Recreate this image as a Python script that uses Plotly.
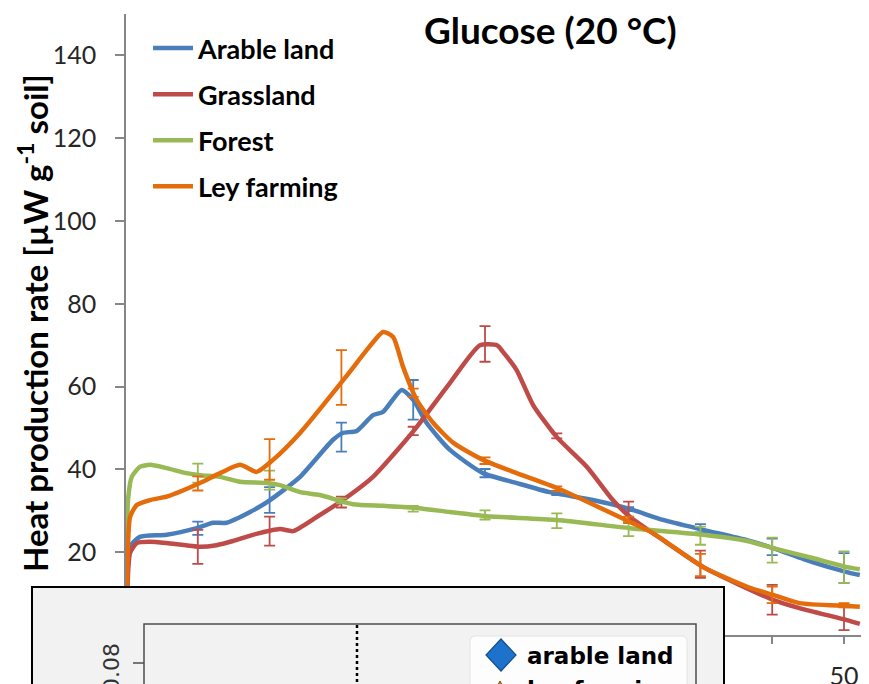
import plotly.graph_objects as go

# ---------------- data ----------------
arable_t = [0, 0.07, 0.28, 0.97, 2.83, 4.92, 6.06, 7.0, 8.64, 10.03, 12.12, 14.4, 15.1, 16.07, 17.2, 17.9, 19.2, 20.0, 20.94, 22.56, 24.86, 27.2, 29.5, 32.5, 35.1, 37.4, 40.2, 43.25, 45.05, 47.8, 50.2, 51.1]
arable_y = [0, 10.9, 21.3, 23.7, 24.2, 25.8, 27.1, 27.1, 29.7, 32.6, 38.2, 47.1, 48.8, 49.3, 53.1, 53.9, 59.2, 56.8, 51.2, 44.7, 39.1, 36.7, 34.5, 32.6, 30.4, 27.8, 25.4, 22.9, 21.0, 17.6, 15.2, 14.5]

grass_t = [0, 0.07, 0.28, 0.75, 1.67, 2.83, 5.15, 6.3, 7.45, 8.84, 10.72, 11.63, 13.28, 15.1, 17.2, 19.08, 20.24, 22.56, 24.65, 25.84, 26.25, 27.2, 28.34, 30.0, 32.1, 33.9, 35.1, 37.4, 40.2, 45.05, 46.9, 50.2, 51.1]
grass_y = [0, 8.5, 19.8, 22.2, 22.5, 22.2, 21.3, 21.7, 22.7, 24.2, 25.6, 25.1, 28.5, 32.6, 38.2, 45.4, 50.2, 60.9, 70.0, 70.0, 68.4, 64.0, 55.6, 47.8, 40.6, 32.6, 28.5, 22.9, 16.4, 8.5, 6.5, 3.6, 2.7]

forest_t = [0, 0.07, 0.14, 0.4, 0.97, 1.67, 2.83, 4.2, 5.15, 6.55, 7.94, 9.8, 10.72, 12.12, 13.5, 15.8, 17.9, 20.24, 22.56, 25.1, 30.0, 35.1, 40.2, 43.25, 45.05, 47.8, 50.2, 51.1]
forest_y = [0, 23.0, 32.6, 38.2, 40.6, 41.1, 40.3, 39.1, 38.6, 38.2, 37.0, 36.7, 36.2, 34.5, 33.8, 31.6, 31.2, 30.7, 29.7, 28.7, 27.8, 25.8, 24.2, 22.7, 21.0, 18.6, 16.4, 15.9]

ley_t = [0, 0.07, 0.28, 0.75, 1.67, 2.83, 5.15, 6.55, 7.94, 9.1, 10.24, 12.12, 15.25, 16.76, 17.9, 18.6, 19.3, 20.24, 21.4, 22.8, 24.86, 27.2, 30.0, 35.1, 36.7, 40.2, 43.3, 45.05, 46.9, 50.2, 51.1]
ley_y = [0, 11.6, 28.5, 31.4, 32.6, 33.4, 36.7, 39.1, 41.1, 39.4, 42.3, 48.8, 62.1, 68.8, 73.2, 72.0, 64.7, 56.8, 51.2, 46.4, 42.3, 39.1, 35.5, 27.3, 24.6, 16.4, 11.6, 9.7, 7.7, 7.0, 6.8]

# error-bar sampling times and values
err_t = [5, 10, 15, 20, 25, 30, 35, 40, 45, 50]
arable_mean = [25.8, 32.6, 47.8, 56.8, 39.1, 34.3, 30.4, 25.8, 21.3, 16.2]
arable_err = [1.6, 3.1, 3.5, 4.8, 1.0, 0.5, 0.5, 1.0, 2.0, 3.6]
grass_mean = [21.3, 25.1, 32.1, 49.3, 70.3, 48.1, 29.7, 17.1, 8.5, 4.2]
grass_err = [4.1, 3.5, 1.3, 1.0, 4.3, 0.6, 2.5, 3.3, 3.6, 3.0]
forest_mean = [39.1, 37.4, 32.4, 30.5, 29.0, 27.6, 25.6, 24.0, 20.5, 16.4]
forest_err = [2.3, 2.3, 0.6, 0.7, 1.1, 1.8, 1.7, 2.2, 3.0, 3.8]
ley_mean = [36.6, 42.4, 62.2, 58.5, 42.1, 35.3, 27.8, 16.9, 9.7, 7.2]
ley_err = [1.7, 4.9, 6.6, 1.0, 0.8, 0.6, 0.8, 2.7, 2.0, 0.5]

series_names = ["Arable land", "Grassland", "Forest", "Ley farming"]
series_colors = ["#4A7EBB", "#BE4B48", "#98B954", "#E46C0A"]

x_tickvals = [0, 5, 10, 15, 20, 25, 30, 35, 40, 45, 50]
x_ticktext = ["0", "", "10", "", "20", "", "30", "", "40", "", "50"]
y_tickvals = [0, 20, 40, 60, 80, 100, 120, 140]

title_text = "Glucose (20 °C)"
ytitle_text = "Heat production rate [µW g<sup>-1</sup> soil]"
inset_tick_text = "0.08"
inset_legend = ["arable land", "ley farming"]

# ---------------- layout geometry ----------------
# the page body adds an 8 px offset; geometry below is given in screen pixels
OFF = 8
SW, SH = 869, 684
W, H = SW - OFF, SH - OFF
PLOT_L, PLOT_T, PLOT_B, PLOT_R = 126, 14, 635, 869   # screen pixels
L = PLOT_L - OFF
T = PLOT_T - OFF
B = SH - PLOT_B
R = SW - PLOT_R
PW, PH = PLOT_R - PLOT_L, PLOT_B - PLOT_T


def px(x):
    return (x - PLOT_L) / PW


def py(y):
    return (PLOT_B - y) / PH


fig = go.Figure()

curves = [(arable_t, arable_y), (grass_t, grass_y), (forest_t, forest_y), (ley_t, ley_y)]
errs = [(arable_mean, arable_err), (grass_mean, grass_err), (forest_mean, forest_err), (ley_mean, ley_err)]

for i, name in enumerate(series_names):
    t, y = curves[i]
    m, e = errs[i]
    fig.add_trace(go.Scatter(
        x=err_t, y=m, mode="markers", marker=dict(size=0.1, color=series_colors[i], opacity=0),
        error_y=dict(type="data", array=e, visible=True, color=series_colors[i], thickness=1.8, width=5.5),
        showlegend=False, hoverinfo="skip", legendgroup=name))
    fig.add_trace(go.Scatter(
        x=t, y=y, mode="lines", name=name, legendgroup=name,
        line=dict(color=series_colors[i], width=4.5, shape="spline", smoothing=0.6)))

font_main = "Lato, Carlito, Calibri, sans-serif"

shapes = []
# inset outer panel
shapes.append(dict(type="rect", xref="paper", yref="paper", x0=px(32), x1=px(724), y0=py(720), y1=py(587),
                   fillcolor="#F2F2F2", line=dict(color="black", width=2), layer="above"))
# inner axes frame
shapes.append(dict(type="rect", xref="paper", yref="paper", x0=px(144), x1=px(696), y0=py(740), y1=py(624),
                   fillcolor="#F2F2F2", line=dict(color="#4D4D4D", width=1.5), layer="above"))
# inset y tick
shapes.append(dict(type="line", xref="paper", yref="paper", x0=px(133), x1=px(144), y0=py(663), y1=py(663),
                   line=dict(color="#4D4D4D", width=1.5), layer="above"))
# dotted vertical line
shapes.append(dict(type="line", xref="paper", yref="paper", x0=px(357), x1=px(357), y0=py(625), y1=py(720),
                   line=dict(color="black", width=2.5, dash="dot"), layer="above"))
# inset legend box (rounded)
lx0, lx1, ly0, ly1, r = 470, 687, 636, 740, 6
path = (f"M {px(lx0 + r)},{py(ly0)} L {px(lx1 - r)},{py(ly0)} "
        f"Q {px(lx1)},{py(ly0)} {px(lx1)},{py(ly0 + r)} L {px(lx1)},{py(ly1)} "
        f"L {px(lx0)},{py(ly1)} L {px(lx0)},{py(ly0 + r)} Q {px(lx0)},{py(ly0)} {px(lx0 + r)},{py(ly0)} Z")
shapes.append(dict(type="path", xref="paper", yref="paper", path=path,
                   fillcolor="#FDFDFD", line=dict(color="#E4E4E4", width=1), layer="above"))
# diamond marker
cx, cy, hw, hh = 501, 655, 15, 16
dpath = (f"M {px(cx)},{py(cy - hh)} L {px(cx + hw)},{py(cy)} L {px(cx)},{py(cy + hh)} "
         f"L {px(cx - hw)},{py(cy)} Z")
shapes.append(dict(type="path", xref="paper", yref="paper", path=dpath,
                   fillcolor="#1F72CC", line=dict(color="#134E8C", width=1.2), layer="above"))
# triangle marker (partially visible)
tx, ty = 500, 681
tpath = f"M {px(tx)},{py(ty)} L {px(tx + 14)},{py(ty + 26)} L {px(tx - 14)},{py(ty + 26)} Z"
shapes.append(dict(type="path", xref="paper", yref="paper", path=tpath,
                   fillcolor="#C97A2E", line=dict(color="#8A5016", width=1), layer="above"))

annotations = [
    dict(text=f"<b>{title_text}</b>", xref="paper", yref="paper", x=px(550), y=py(29),
         xanchor="center", yanchor="middle", showarrow=False,
         font=dict(family=font_main, size=37, color="black")),
    dict(text=f"<b>{ytitle_text}</b>", xref="paper", yref="paper", x=px(33), y=py(323),
         xanchor="center", yanchor="middle", showarrow=False, textangle=-90,
         font=dict(family=font_main, size=33, color="black")),
    dict(text=inset_tick_text, xref="paper", yref="paper", x=px(111), y=py(668),
         xanchor="center", yanchor="middle", showarrow=False, textangle=-90,
         font=dict(family="DejaVu Sans", size=22, color="#333333")),
    dict(text=f"<b>{inset_legend[0]}</b>", xref="paper", yref="paper", x=px(525), y=py(656),
         xanchor="left", yanchor="middle", showarrow=False,
         font=dict(family="DejaVu Sans", size=23, color="black")),
    dict(text=f"<b>{inset_legend[1]}</b>", xref="paper", yref="paper", x=px(525), y=py(690),
         xanchor="left", yanchor="middle", showarrow=False,
         font=dict(family="DejaVu Sans", size=23, color="black")),
]

fig.update_layout(
    width=W, height=H,
    margin=dict(l=L, r=R, t=T, b=B, pad=0, autoexpand=False),
    paper_bgcolor="white", plot_bgcolor="white",
    showlegend=True,
    legend=dict(x=px(148), y=py(24), xanchor="left", yanchor="top",
                bgcolor="rgba(0,0,0,0)", borderwidth=0, tracegroupgap=8,
                font=dict(family=font_main, size=27, color="black", weight="bold"),
                itemwidth=40),
    shapes=shapes,
    annotations=annotations,
    xaxis=dict(range=[0, 51.74], tickvals=x_tickvals, ticktext=x_ticktext, automargin=False,
               showgrid=False, zeroline=False, showline=True, linecolor="#868686", linewidth=1.5,
               ticks="outside", ticklen=7, tickcolor="#868686", tickwidth=1.5,
               ticklabelstandoff=11,
               tickfont=dict(family=font_main, size=25, color="#262626")),
    yaxis=dict(range=[0, 150], tickvals=y_tickvals, automargin=False,
               showgrid=False, zeroline=False, showline=True, linecolor="#868686", linewidth=1.5,
               ticks="outside", ticklen=9, tickcolor="#868686", tickwidth=1.5,
               ticklabelstandoff=14,
               tickfont=dict(family=font_main, size=25, color="#262626")),
)

fig.write_html("out.html")
